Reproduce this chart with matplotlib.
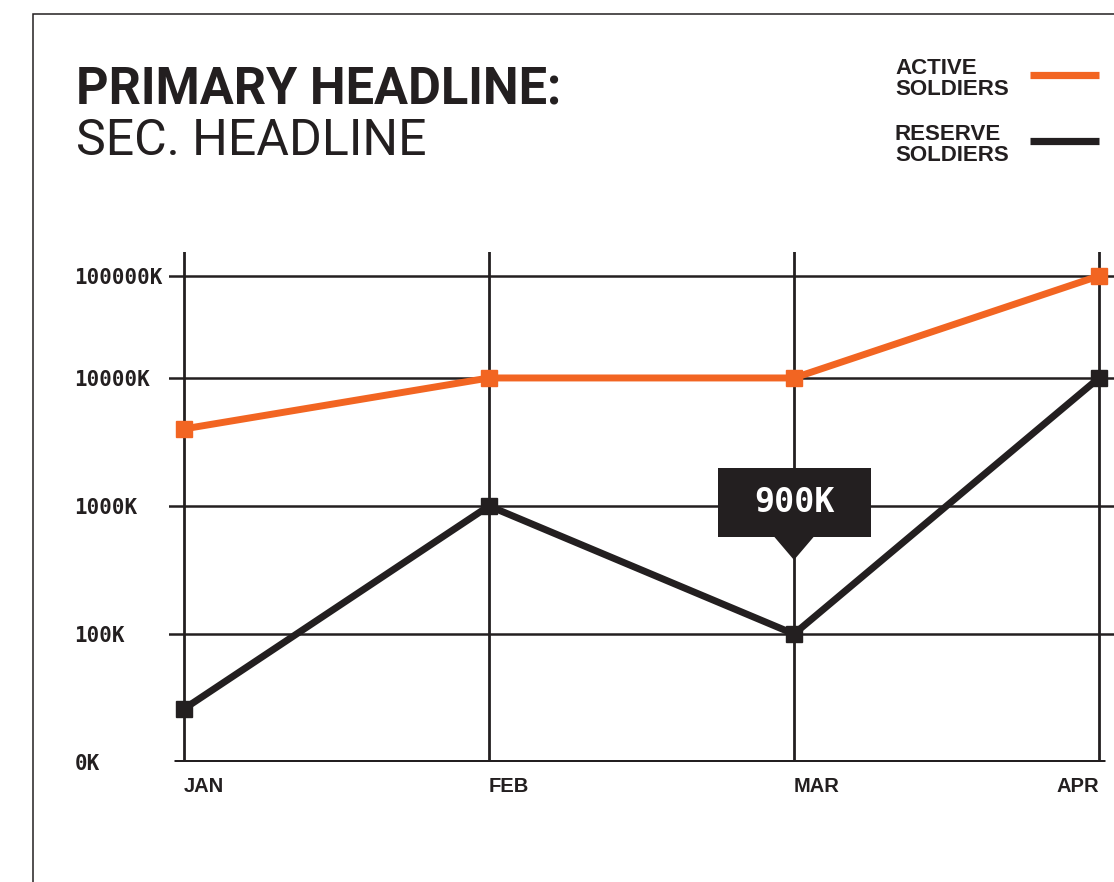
import numpy as np
import matplotlib
matplotlib.use("Agg")
import matplotlib.pyplot as plt
from matplotlib.lines import Line2D
from matplotlib.patches import Rectangle, Polygon
from matplotlib.transforms import ScaledTranslation

# values in thousands of soldiers
MONTHS = ["JAN", "FEB", "MAR", "APR"]
ACTIVE = [4000, 10000, 10000, 100000]
RESERVE = [26, 1000, 100, 10000]
Y_TICKS = [0, 100, 1000, 10000, 100000]
Y_LABELS = ["0K", "100K", "1000K", "10000K", "100000K"]
CALLOUT_MONTH = "MAR"
CALLOUT_TEXT = "900K"

INK = "#231f20"
ORANGE = "#f26522"
W, H = 1114, 882

# decade-step scale, with the top decade drawn a bit shorter
LOG_STEPS = [1, 2, 3, 4, 5, 6]
POS_STEPS = [0, 1, 2, 3, 3.797, 4.594]


def forward(v):
    v = np.asarray(v, dtype=float)
    return np.interp(np.log10(np.maximum(np.nan_to_num(v, nan=10.0), 10)), LOG_STEPS, POS_STEPS)


def inverse(p):
    return 10 ** np.interp(p, POS_STEPS, LOG_STEPS)


def fx(px):
    return px / W


def fy(py):
    return 1 - py / H


fig = plt.figure(figsize=(W / 100, H / 100), dpi=100)
fig.patch.set_facecolor("white")

# page frame
fig.add_artist(Rectangle((fx(33), -0.1), 2, fy(14) + 0.1, transform=fig.transFigure,
                         fill=False, edgecolor=INK, linewidth=1.1))

# headline
fig.text(fx(76), fy(103), "PRIMARY HEADLINE:", family="Roboto", weight="bold",
         fontsize=36.4, color=INK, va="baseline")
fig.text(fx(76), fy(155), "SEC. HEADLINE", family="Roboto", weight="normal",
         fontsize=36, color=INK, va="baseline")

# legend block
for label, color, ytxt, yline in [("ACTIVE\nSOLDIERS", ORANGE, 58, 75),
                                  ("RESERVE\nSOLDIERS", INK, 124, 141)]:
    fig.text(fx(895), fy(ytxt), label, family="Liberation Sans", weight="bold",
             fontsize=16, color=INK, va="top", linespacing=0.98)
    fig.add_artist(Line2D([fx(1030), fx(1099)], [fy(yline), fy(yline)],
                          transform=fig.transFigure, color=color, linewidth=5.2,
                          solid_capstyle="butt"))

# plot area
x0, x1 = -0.05, 3.1
left = 184 + x0 * 305
right = 1099 + (x1 - 3) * 305
ax = fig.add_axes([fx(left), fy(762), fx(right - left), (762 - 252) / H])
ax.set_facecolor("none")
ax.set_yscale("function", functions=(forward, inverse))
ax.set_xlim(x0, x1)
ax.set_ylim(0, inverse(3.984))
for s in ax.spines.values():
    s.set_visible(False)

x = np.arange(len(MONTHS))
ax.set_xticks(x)
ax.set_xticklabels(MONTHS, family="Liberation Sans", weight="bold", fontsize=14.5, color=INK)
for lab in ax.get_xticklabels()[:-1]:
    lab.set_horizontalalignment("left")
ax.get_xticklabels()[-1].set_horizontalalignment("right")
ax.tick_params(axis="x", length=0, pad=11)

ax.set_yticks(Y_TICKS)
ax.set_yticklabels(Y_LABELS, family="DejaVu Sans Mono", weight="bold", fontsize=15, color=INK)
for lab in ax.get_yticklabels():
    lab.set_horizontalalignment("left")
ax.tick_params(axis="y", length=0, pad=68)
ax.minorticks_off()

ax.grid(axis="x", color=INK, linewidth=2)
for v in Y_TICKS[1:]:
    ax.axhline(v, color=INK, linewidth=1.8, zorder=1)
ax.hlines(0, -0.033, 3.02, color=INK, linewidth=3.6, zorder=2)

ax.plot(x, ACTIVE, color=ORANGE, linewidth=5, marker="s", markersize=11,
        clip_on=False, zorder=4)
ax.plot(x, RESERVE, color=INK, linewidth=5, marker="s", markersize=11,
        clip_on=False, zorder=4)

# callout above the March reserve point
i = MONTHS.index(CALLOUT_MONTH)
trans = fig.dpi_scale_trans + ScaledTranslation(x[i], RESERVE[i], ax.transData)
ax.add_patch(Rectangle((-0.765, 0.97), 1.53, 0.69, transform=trans, facecolor=INK,
                       edgecolor="none", clip_on=False, zorder=6))
ax.add_patch(Polygon([(-0.2, 0.975), (0.2, 0.975), (0, 0.74)], closed=True,
                     transform=trans, facecolor=INK, edgecolor="none",
                     clip_on=False, zorder=6))
ax.text(0, 1.31, CALLOUT_TEXT, transform=trans, ha="center", va="center",
        family="DejaVu Sans Mono", weight="bold", fontsize=24, color="white", zorder=7)

fig.savefig("out.png", dpi=100)
